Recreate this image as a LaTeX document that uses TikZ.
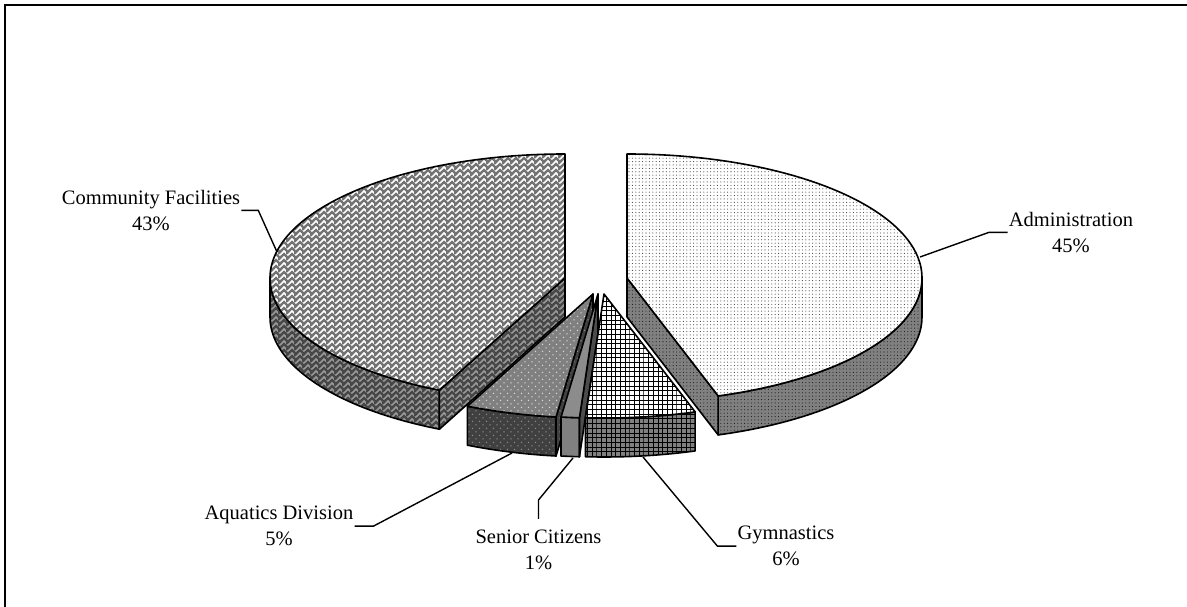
\documentclass[tikz,border=0pt]{standalone}
\usepackage{fontspec}
\setmainfont{Liberation Serif}
\usetikzlibrary{patterns}

\pgfdeclarepatternformonly{admdots}{\pgfqpoint{-1pt}{-1pt}}{\pgfqpoint{1pt}{1pt}}{\pgfqpoint{3.4pt}{3.4pt}}{%
  \pgfpathcircle{\pgfqpoint{0pt}{0pt}}{0.55pt}\pgfusepath{fill}}
\pgfdeclarepatternformonly{aqdots}{\pgfqpoint{-1pt}{-1pt}}{\pgfqpoint{8pt}{8pt}}{\pgfqpoint{7pt}{7pt}}{%
  \pgfpathcircle{\pgfqpoint{0pt}{0pt}}{0.75pt}%
  \pgfpathcircle{\pgfqpoint{3.5pt}{3.5pt}}{0.75pt}\pgfusepath{fill}}
\pgfdeclarepatternformonly{gymgrid}{\pgfqpoint{-0.5pt}{-0.5pt}}{\pgfqpoint{4.7pt}{4.7pt}}{\pgfqpoint{4.7pt}{4.7pt}}{%
  \pgfsetlinewidth{1pt}%
  \pgfpathmoveto{\pgfqpoint{0pt}{-0.5pt}}\pgfpathlineto{\pgfqpoint{0pt}{4.7pt}}%
  \pgfpathmoveto{\pgfqpoint{-0.5pt}{0pt}}\pgfpathlineto{\pgfqpoint{4.7pt}{0pt}}%
  \pgfusepath{stroke}}
\pgfdeclarepatternformonly{herring}{\pgfqpoint{-2pt}{-2pt}}{\pgfqpoint{10pt}{8pt}}{\pgfqpoint{8pt}{6pt}}{%
  \pgfsetlinewidth{2.3pt}%
  \pgfsetmiterjoin%
  \pgfpathmoveto{\pgfqpoint{-2pt}{-1pt}}\pgfpathlineto{\pgfqpoint{0pt}{1pt}}%
  \pgfpathlineto{\pgfqpoint{4pt}{5pt}}\pgfpathlineto{\pgfqpoint{8pt}{1pt}}\pgfpathlineto{\pgfqpoint{10pt}{3pt}}%
  \pgfusepath{stroke}}

\tikzset{
  rim/.style={draw=black, line width=1.6pt, line join=round},
  admtop/.style={rim, preaction={fill=white}, pattern=admdots, pattern color=black!75},
  admside/.style={rim, preaction={fill=black!50}, pattern=admdots, pattern color=black!90},
  cftop/.style={rim, preaction={fill=white}, pattern=herring, pattern color=black!55},
  cfside/.style={rim, preaction={fill=black!40}, pattern=herring, pattern color=black!72},
  aqtop/.style={rim, preaction={fill=black!50}, pattern=aqdots, pattern color=white!85!black},
  aqside/.style={rim, preaction={fill=black!75}, pattern=aqdots, pattern color=black!45},
  sctop/.style={rim, fill=black!45},
  scside/.style={rim, fill=black!50},
  sccut/.style={rim, fill=black!70},
  gytop/.style={rim, preaction={fill=white}, pattern=gymgrid, pattern color=black},
  gyside/.style={rim, preaction={fill=black!50}, pattern=gymgrid, pattern color=black},
  leader/.style={draw=black, line width=1.4pt},
  lbl/.style={align=center, inner sep=1pt, font=\fontsize{20.5}{26}\selectfont},
  ell/.style={x radius=295, y radius=124},
}

\begin{document}
\begin{tikzpicture}[x=1pt, y=1pt]
\useasboundingbox (0,0) rectangle (1187,607);
\draw[line width=2pt] (5,0) -- (5,601.5) -- (1188,601.5);

% slice apexes
\coordinate (C1) at (565,329);   % Community Facilities
\coordinate (C2) at (627,329);   % Administration
\coordinate (C3) at (593,313);   % Aquatics Division
\coordinate (C4) at (598,313);   % Senior Citizens
\coordinate (C5) at (604,313);   % Gymnastics

% Community Facilities (90 -> 244.8)
\path[cfside] (C1) ++(180:295 and 124) arc[start angle=180, end angle=244.8, ell]
  -- ++(0,-39) arc[start angle=244.8, end angle=180, ell] -- cycle;
\path[cfside] (C1) -- ++(244.8:295 and 124) -- ++(0,-39) -- ([yshift=-39pt]C1) -- cycle;
\path[cftop] (C1) -- ++(90:295 and 124) arc[start angle=90, end angle=244.8, ell] -- cycle;

% Administration (-72 -> 90)
\path[admside] (C2) ++(0:295 and 124) arc[start angle=0, end angle=-72, ell]
  -- ++(0,-39) arc[start angle=-72, end angle=0, ell] -- cycle;
\path[admside] (C2) -- ++(-72:295 and 124) -- ++(0,-39) -- ([yshift=-39pt]C2) -- cycle;
\path[admtop] (C2) -- ++(90:295 and 124) arc[start angle=90, end angle=-72, ell] -- cycle;

% Aquatics Division (-115.2 -> -97.2)
\path[aqside] (C3) ++(-115.2:295 and 124) arc[start angle=-115.2, end angle=-97.2, ell]
  -- ++(0,-39) arc[start angle=-97.2, end angle=-115.2, ell] -- cycle;
\path[aqside] (C3) -- ++(-97.2:295 and 124) -- ++(0,-39) -- ([yshift=-39pt]C3) -- cycle;
\path[aqtop] (C3) -- ++(-115.2:295 and 124) arc[start angle=-115.2, end angle=-97.2, ell] -- cycle;

% Senior Citizens (-97.2 -> -93.6)
\path[scside] (C4) ++(-97.2:295 and 124) arc[start angle=-97.2, end angle=-93.6, ell]
  -- ++(0,-39) arc[start angle=-93.6, end angle=-97.2, ell] -- cycle;
\path[sccut] (C4) -- ++(-93.6:295 and 124) -- ++(0,-39) -- ([yshift=-39pt]C4) -- cycle;
\path[sctop] (C4) -- ++(-97.2:295 and 124) arc[start angle=-97.2, end angle=-93.6, ell] -- cycle;

% Gymnastics (-93.6 -> -72)
\path[gyside] (C5) ++(-93.6:295 and 124) arc[start angle=-93.6, end angle=-72, ell]
  -- ++(0,-39) arc[start angle=-72, end angle=-93.6, ell] -- cycle;
\path[gytop] (C5) -- ++(-93.6:295 and 124) arc[start angle=-93.6, end angle=-72, ell] -- cycle;

% leader end points on the pie
\coordinate (cfpt) at (277,355);
\coordinate (adpt) at (920,350);
\coordinate (aqpt) at (512,154);
\coordinate (scpt) at (573,149);
\coordinate (gypt) at (643,150);

% labels
\node[lbl, anchor=north] (cf) at (151,418) {Community Facilities\\43\%};
\node[lbl, anchor=north] (ad) at (1071,396) {Administration\\45\%};
\node[lbl, anchor=north] (aq) at (279,102) {Aquatics Division\\5\%};
\node[lbl, anchor=north] (sc) at (538.5,78) {Senior Citizens\\1\%};
\node[lbl, anchor=north] (gy) at (786,82) {Gymnastics\\6\%};

% leaders
\draw[leader] (cf.east) -- ++(17,0) -- (cfpt);
\draw[leader] (ad.west) -- ++(-19,0) -- (adpt);
\draw[leader] (aq.east) -- ++(19,0) -- (aqpt);
\draw[leader] ([yshift=10pt]sc.north) -- ++(0,19) -- (scpt);
\draw[leader] (gy.west) -- ++(-19,0) -- (gypt);
\end{tikzpicture}
\end{document}
